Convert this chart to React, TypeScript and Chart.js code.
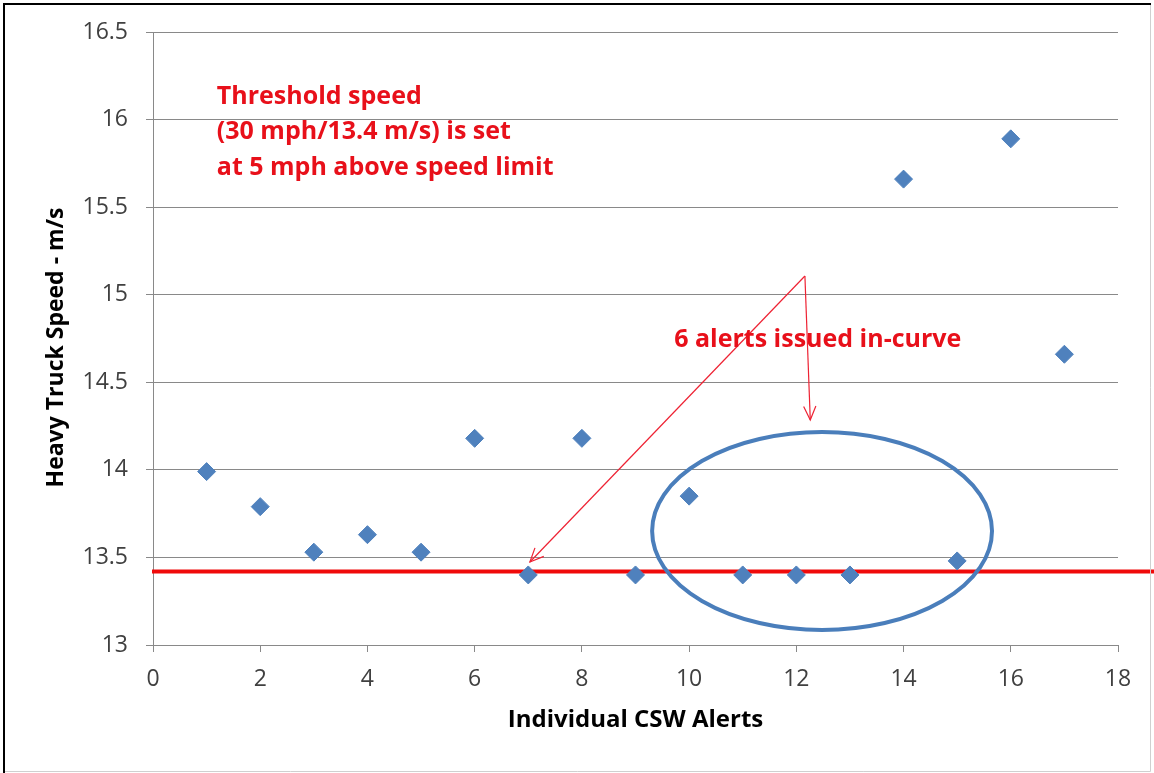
import React, { useEffect, useRef } from "react";
import { Chart, registerables } from "chart.js";

Chart.register(...registerables);

// ---- Data ----
const ALERT_IDS = [1, 2, 3, 4, 5, 6, 7, 8, 9, 10, 11, 12, 13, 14, 15, 16, 17];
const SPEEDS = [13.99, 13.79, 13.53, 13.63, 13.53, 14.18, 13.4, 14.18, 13.4, 13.85, 13.4, 13.4, 13.4, 15.66, 13.48, 15.89, 14.66];

const X_MIN = 0;
const X_MAX = 18;
const X_STEP = 2;
const Y_MIN = 13;
const Y_MAX = 16.5;
const Y_STEP = 0.5;

const X_TITLE = "Individual CSW Alerts";
const Y_TITLE = "Heavy Truck Speed - m/s";

const THRESHOLD = 13.42;

const NOTE_LINES = ["Threshold speed", "(30 mph/13.4 m/s) is set", "at 5 mph above speed limit"];
const NOTE_POS = { x: 1.19, y: 16.13 };
const CALLOUT_TEXT = "6 alerts issued in-curve";
const CALLOUT_POS = { x: 12.4, y: 14.74 };
const ARROW_FROM = { x: 12.16, y: 15.107 };
const ARROW_TARGETS = [
  { x: 7.03, y: 13.474 },
  { x: 12.26, y: 14.285 },
];
const ELLIPSE = { cx: 12.48, cy: 13.651, rx: 3.17, ry: 0.565 };

const BLUE = "#4f81bd";
const RED_LINE = "#f00a0a";
const RED_TEXT = "#e8101a";
const GRID = "#898989";
const TICK_COLOR = "#404040";

const annotationPlugin = {
  id: "annotations",
  beforeDatasetsDraw(chart: any) {
    const { ctx, scales } = chart;
    const x = scales.x;
    const y = scales.y;
    const py = y.getPixelForValue(THRESHOLD);
    ctx.save();
    ctx.strokeStyle = RED_LINE;
    ctx.lineWidth = 4;
    ctx.beginPath();
    ctx.moveTo(x.getPixelForValue(X_MIN) - 1, py);
    ctx.lineTo(chart.width, py);
    ctx.stroke();
    ctx.restore();
  },
  afterDatasetsDraw(chart: any) {
    const { ctx, scales } = chart;
    const x = scales.x;
    const y = scales.y;
    ctx.save();

    // ellipse
    const cx = x.getPixelForValue(ELLIPSE.cx);
    const cy = y.getPixelForValue(ELLIPSE.cy);
    const rx = x.getPixelForValue(ELLIPSE.cx + ELLIPSE.rx) - cx;
    const ry = cy - y.getPixelForValue(ELLIPSE.cy + ELLIPSE.ry);
    ctx.strokeStyle = "#4a7ebb";
    ctx.lineWidth = 4;
    ctx.beginPath();
    ctx.ellipse(cx, cy, rx, ry, 0, 0, Math.PI * 2);
    ctx.stroke();

    // arrows
    const fx = x.getPixelForValue(ARROW_FROM.x);
    const fy = y.getPixelForValue(ARROW_FROM.y);
    ctx.strokeStyle = "#ee2233";
    ctx.lineWidth = 1.2;
    ARROW_TARGETS.forEach((t) => {
      const tx = x.getPixelForValue(t.x);
      const ty = y.getPixelForValue(t.y);
      ctx.beginPath();
      ctx.moveTo(fx, fy);
      ctx.lineTo(tx, ty);
      ctx.stroke();
      const ang = Math.atan2(ty - fy, tx - fx);
      const len = 15;
      const spread = 0.42;
      ctx.beginPath();
      ctx.moveTo(tx - len * Math.cos(ang - spread), ty - len * Math.sin(ang - spread));
      ctx.lineTo(tx, ty);
      ctx.lineTo(tx - len * Math.cos(ang + spread), ty - len * Math.sin(ang + spread));
      ctx.stroke();
    });

    // texts
    ctx.fillStyle = RED_TEXT;
    ctx.font = "bold 25px 'Open Sans'";
    ctx.textBaseline = "middle";
    ctx.textAlign = "left";
    const nx = x.getPixelForValue(NOTE_POS.x);
    const ny = y.getPixelForValue(NOTE_POS.y);
    NOTE_LINES.forEach((line, i) => {
      ctx.fillText(line, nx, ny + i * 35.5);
    });
    ctx.textAlign = "center";
    ctx.fillText(CALLOUT_TEXT, x.getPixelForValue(CALLOUT_POS.x), y.getPixelForValue(CALLOUT_POS.y));
    ctx.restore();
  },
  afterDraw(chart: any) {
    const { ctx } = chart;
    ctx.save();
    ctx.strokeStyle = "#d0d0d0";
    ctx.lineWidth = 1;
    ctx.beginPath();
    ctx.moveTo(1150.5, 4);
    ctx.lineTo(1150.5, 771.5);
    ctx.lineTo(4, 771.5);
    ctx.stroke();
    ctx.strokeStyle = "#000";
    ctx.lineWidth = 2;
    ctx.beginPath();
    ctx.moveTo(4, chart.height);
    ctx.lineTo(4, 4);
    ctx.lineTo(1151, 4);
    ctx.stroke();
    ctx.restore();
  },
};

export default function App() {
  const ref = useRef<HTMLCanvasElement | null>(null);

  useEffect(() => {
    if (!ref.current) return;
    const chart = new Chart(ref.current, {
      type: "scatter",
      data: {
        datasets: [
          {
            label: "Speed",
            data: ALERT_IDS.map((id, i) => ({ x: id, y: SPEEDS[i] })),
            backgroundColor: BLUE,
            borderColor: BLUE,
            borderWidth: 1,
            pointStyle: "rectRot",
            pointRadius: 9,
          },
        ],
      },
      plugins: [annotationPlugin],
      options: {
        responsive: false,
        animation: false,
        layout: { padding: { left: 0, top: 32, right: 36, bottom: 0 } },
        plugins: {
          legend: { display: false },
          tooltip: { enabled: false },
        },
        scales: {
          x: {
            type: "linear",
            min: X_MIN,
            max: X_MAX,
            afterFit: (s: any) => {
              s.height = 128;
            },
            ticks: {
              stepSize: X_STEP,
              color: TICK_COLOR,
              font: { family: "'Open Sans'", size: 23 },
              padding: 14,
            },
            grid: {
              drawOnChartArea: false,
              drawTicks: true,
              tickLength: 7,
              color: GRID,
            },
            border: { color: GRID, width: 1 },
            title: {
              display: true,
              text: X_TITLE,
              color: "#000",
              font: { family: "'Open Sans'", size: 24, weight: "bold" },
              padding: { top: 0, bottom: 38 },
            },
          },
          y: {
            type: "linear",
            min: Y_MIN,
            max: Y_MAX,
            afterFit: (s: any) => {
              s.width = 153;
            },
            ticks: {
              stepSize: Y_STEP,
              color: TICK_COLOR,
              font: { family: "'Open Sans'", size: 23 },
              padding: 18,
              callback: (v: any) => String(Number(v)),
            },
            grid: {
              color: GRID,
              tickLength: 7,
            },
            border: { color: GRID, width: 1 },
            title: {
              display: true,
              text: Y_TITLE + "\u00A0\u00A0\u00A0",
              color: "#000",
              font: { family: "'Open Sans'", size: 23, weight: "bold" },
              padding: { top: 43, bottom: 0 },
            },
          },
        },
      },
    });
    return () => chart.destroy();
  }, []);

  return (
    <div style={{ position: "fixed", left: 0, top: 0, width: 1154, height: 773, background: "#fff" }}>
      <canvas ref={ref} width={1154} height={773} style={{ display: "block" }} />
    </div>
  );
}
